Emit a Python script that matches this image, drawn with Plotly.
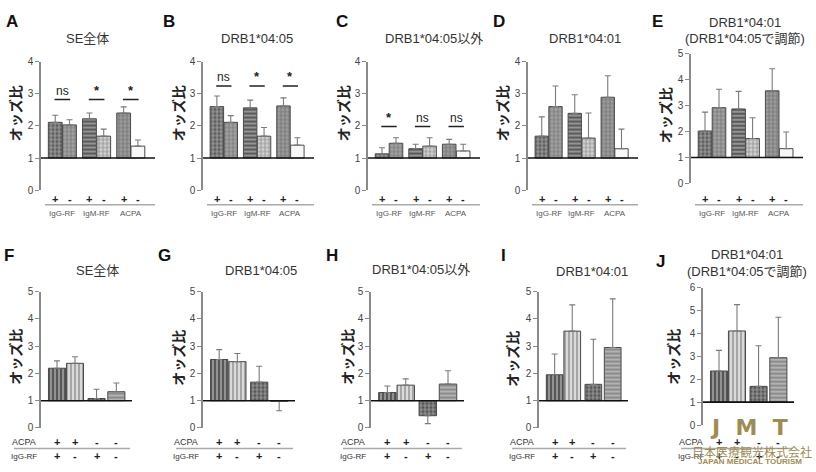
import plotly.graph_objects as go

# ---------------- DATA ----------------
top_groups = ["IgG-RF", "IgM-RF", "ACPA"]
top_signs = ["+", "-", "+", "-", "+", "-"]

A_or = [2.11, 2.03, 2.22, 1.68, 2.40, 1.37]
A_ci = [2.33, 2.19, 2.40, 1.90, 2.59, 1.56]
B_or = [2.60, 2.11, 2.56, 1.68, 2.62, 1.40]
B_ci = [2.93, 2.32, 2.80, 1.95, 2.87, 1.63]
C_or = [1.13, 1.46, 1.29, 1.37, 1.43, 1.22]
C_ci = [1.32, 1.63, 1.43, 1.63, 1.58, 1.43]
D_or = [1.68, 2.60, 2.39, 1.62, 2.89, 1.29]
D_ci = [2.28, 3.24, 2.97, 2.40, 3.56, 1.90]
E_or = [2.02, 2.92, 2.87, 1.73, 3.57, 1.34]
E_ci = [2.75, 3.63, 3.55, 2.53, 4.42, 1.98]

A_sig = ["ns", "*", "*"]
B_sig = ["ns", "*", "*"]
C_sig = ["*", "ns", "ns"]
A_sig_y = 2.82
B_sig_y = 3.24
C_sig_y = 1.98

acpa_signs = ["+", "+", "-", "-"]
igg_signs = ["+", "-", "+", "-"]

F_or = [2.19, 2.37, 1.08, 1.33]
F_ci = [2.46, 2.61, 1.42, 1.65]
G_or = [2.51, 2.43, 1.68, 0.98]
G_ci = [2.87, 2.73, 2.26, 0.63]
H_or = [1.30, 1.57, 0.45, 1.61]
H_ci = [1.54, 1.80, 0.16, 2.10]
I_or = [1.95, 3.55, 1.60, 2.95]
I_ci = [2.71, 4.51, 3.25, 4.73]
J_or = [2.36, 4.11, 1.69, 2.94]
J_ci = [3.26, 5.26, 3.46, 4.71]

ylabel = "オッズ比"
title_se = "SE全体"
title_0405 = "DRB1*04:05"
title_not0405 = "DRB1*04:05以外"
title_0401 = "DRB1*04:01"
title_adj = "(DRB1*04:05で調節)"

# ---------------- STYLE ----------------
W, H = 816, 472
LAT = "Liberation Sans, Arial, Noto Sans CJK JP"
CJK = "Noto Sans CJK JP, Liberation Sans"

top_pos = [0, 1, 2.4, 3.4, 4.8, 5.8]
top_group_pos = [0.5, 2.9, 5.3]
top_range = [-1, 7]
bot_pos = [0, 1, 2.2, 3.3]
bot_range = [-0.89, 4.17]

top_bg = ['#5e5e5e', '#a2a2a2', '#5a5a5a', '#d2d2d2', '#9c9c9c', '#f7f7f7']
top_fg = ['#3c3c3c', '#7c7c7c', '#343434', '#a2a2a2', '#828282', '#f7f7f7']
top_shape = ['+', '+', '-', '+', '+', '']
bot_bg = ['#575757', '#dadada', '#575757', '#b2b2b2']
bot_fg = ['#333333', '#9c9c9c', '#3a3a3a', '#888888']
bot_shape = ['|', '|', '+', '-']


def px(x):
    return x / W


def py(y):
    return 1 - y / H


def ann(text, x, y, xref="paper", yref="paper", size=11, color="#222", family=LAT, **kw):
    d = dict(text=text, x=x, y=y, xref=xref, yref=yref, showarrow=False, xanchor="center", yanchor="middle",
             font=dict(family=family, size=size, color=color))
    d.update(kw)
    return d


panels = [
    dict(letter="A", lx=12, ly=16, titles=[title_se], tx=87, ty=[33], orv=A_or, ci=A_ci, sig=A_sig, sig_y=A_sig_y,
         g=(41, 155, 189, 57, 4), ylx=15, yly=110, row="top"),
    dict(letter="B", lx=169, ly=16, titles=[title_0405], tx=257, ty=[33], orv=B_or, ci=B_ci, sig=B_sig, sig_y=B_sig_y,
         g=(203, 314, 189, 57, 4), ylx=178, yly=110, row="top"),
    dict(letter="C", lx=342, ly=16, titles=[title_not0405], tx=434, ty=[33], orv=C_or, ci=C_ci, sig=C_sig, sig_y=C_sig_y,
         g=(368, 480, 189, 57, 4), ylx=343, yly=110, row="top"),
    dict(letter="D", lx=499, ly=16, titles=[title_0401], tx=585, ty=[33], orv=D_or, ci=D_ci, sig=None, sig_y=None,
         g=(528, 638, 189, 57, 4), ylx=502, yly=110, row="top"),
    dict(letter="E", lx=657, ly=16, titles=[title_0401, title_adj], tx=745, ty=[17, 33], orv=E_or, ci=E_ci, sig=None,
         sig_y=None, g=(691, 803, 182, 49, 5), ylx=665, yly=112, row="top"),
    dict(letter="F", lx=9, ly=256, titles=[title_se], tx=97, ty=[271], orv=F_or, ci=F_ci, sig=None, sig_y=None,
         g=(41, 132, 433, 293, 5), ylx=15, yly=360, row="bot", labx=24),
    dict(letter="G", lx=164, ly=256, titles=[title_0405], tx=261, ty=[271], orv=G_or, ci=G_ci, sig=None, sig_y=None,
         g=(203, 295, 433, 293, 5), ylx=178, yly=361, row="bot", labx=186),
    dict(letter="H", lx=332, ly=256, titles=[title_not0405], tx=421, ty=[270], orv=H_or, ci=H_ci, sig=None, sig_y=None,
         g=(371, 464, 433, 293, 5), ylx=347, yly=360, row="bot", labx=353),
    dict(letter="I", lx=503, ly=256, titles=[title_0401], tx=592, ty=[272], orv=I_or, ci=I_ci, sig=None, sig_y=None,
         g=(539, 628, 433, 293, 5), ylx=512, yly=362, row="bot", labx=522),
    dict(letter="J", lx=660, ly=262, titles=[title_0401, title_adj], tx=747, ty=[255, 272], orv=J_or, ci=J_ci, sig=None,
         sig_y=None, g=(703, 794, 430, 289, 6), ylx=673, yly=360, row="bot", labx=691),
]

fig = go.Figure()
annotations = []
shapes = []
layout = {}

for i, p in enumerate(panels, start=1):
    xl, xr, yb, yt, ymax = p["g"]
    sfx = "" if i == 1 else str(i)
    xa, ya = "x" + sfx, "y" + sfx
    top = p["row"] == "top"
    pos = top_pos if top else bot_pos
    rng = top_range if top else bot_range
    bg = top_bg if top else bot_bg
    fg = top_fg if top else bot_fg
    shp = top_shape if top else bot_shape
    orv, ci = p["orv"], p["ci"]

    fig.add_trace(go.Bar(
        x=pos, y=[v - 1 for v in orv], base=1, width=0.97 if top else 0.95,
        xaxis=xa, yaxis=ya, showlegend=False, hoverinfo="skip",
        marker=dict(color=bg, line=dict(color="#4a4a4a", width=1),
                    pattern=dict(shape=shp, fgcolor=fg, bgcolor=bg, size=4, solidity=0.35))))
    up = [max(c - v, 0) if v >= 1 else 0 for v, c in zip(orv, ci)]
    dn = [0 if v >= 1 else max(v - c, 0) for v, c in zip(orv, ci)]
    fig.add_trace(go.Scatter(
        x=pos, y=orv, mode="markers", marker=dict(size=1, opacity=0), xaxis=xa, yaxis=ya,
        showlegend=False, hoverinfo="skip",
        error_y=dict(type="data", symmetric=False, array=up, arrayminus=dn,
                     color="#7a7a7a", thickness=1.1, width=3)))

    layout["xaxis" + sfx] = dict(domain=[px(xl), px(xr)], range=rng, anchor=ya, showline=False,
                                 showticklabels=False, ticks="", showgrid=False, zeroline=False, fixedrange=True)
    layout["yaxis" + sfx] = dict(domain=[py(yb), py(yt)], range=[0, ymax], anchor=xa, showline=True,
                                 linecolor="#8a8a8a", linewidth=1.5, ticks="outside", ticklen=4,
                                 tickcolor="#8a8a8a", tickwidth=1.2, dtick=1, showgrid=False, zeroline=False,
                                 tickfont=dict(family=LAT, size=10, color="#444"), fixedrange=True)

    # baseline at OR = 1
    shapes.append(dict(type="line", xref=xa + " domain", yref=ya, x0=0, x1=1, y0=1, y1=1,
                       line=dict(color="#111", width=1.6)))

    annotations.append(ann("<b>" + p["letter"] + "</b>", px(p["lx"]), py(p["ly"]), size=17, color="#111"))
    for t, ty in zip(p["titles"], p["ty"]):
        annotations.append(ann(t, px(p["tx"]), py(ty), size=13, color="#333"))
    annotations.append(ann("<b>" + ylabel + "</b>", px(p["ylx"]), py(p["yly"]), size=14, color="#222",
                           family=CJK, textangle=-90))

    if top:
        for xpos, s in zip(pos, top_signs):
            annotations.append(ann("<b>" + s + "</b>", xpos, py(198), xref=xa, size=11, color="#222"))
        shapes.append(dict(type="line", xref="paper", yref="paper", x0=px(xl + 4), x1=px(xr), y0=py(204),
                           y1=py(204), line=dict(color="#aaa", width=1.5)))
        for xpos, gname in zip(top_group_pos, top_groups):
            annotations.append(ann(gname, xpos, py(213), xref=xa, size=8, color="#555"))
        if p["sig"]:
            for xpos, s in zip(top_group_pos, p["sig"]):
                shapes.append(dict(type="line", xref=xa, yref=ya, x0=xpos - 0.55, x1=xpos + 0.55,
                                   y0=p["sig_y"], y1=p["sig_y"], line=dict(color="#222", width=1.6)))
                annotations.append(ann(("<b>*</b>" if s == "*" else s), xpos, p["sig_y"], xref=xa, yref=ya,
                                       size=12 if s == "ns" else 13, color="#222", yshift=9))
    else:
        annotations.append(ann("ACPA", px(p["labx"]), py(447), size=9, color="#333"))
        annotations.append(ann("IgG-RF", px(p["labx"]), py(462), size=8, color="#333"))
        for xpos, s1, s2 in zip(pos, acpa_signs, igg_signs):
            annotations.append(ann("<b>" + s1 + "</b>", xpos, py(447), xref=xa, size=11, color="#222"))
            annotations.append(ann("<b>" + s2 + "</b>", xpos, py(462), xref=xa, size=11, color="#222"))
        shapes.append(dict(type="line", xref="paper", yref="paper", x0=px(p["labx"] - 10), x1=px(xr - 2),
                           y0=py(454), y1=py(454), line=dict(color="#aaa", width=1.5)))

# watermark
gold = "#a08c52"
annotations.append(ann("<b>J  M  T</b>", px(749), py(433), size=22, color=gold, family="DejaVu Sans"))
annotations.append(ann("日本医療観光株式会社", px(752), py(457), size=12, color=gold, family=CJK))
annotations.append(ann("<b>JAPAN MEDICAL TOURISM</b>", px(750), py(467), size=8, color=gold))

fig.update_layout(width=W, height=H, margin=dict(l=0, r=0, t=0, b=0), paper_bgcolor="white",
                  plot_bgcolor="white", barmode="overlay", annotations=annotations, shapes=shapes, **layout)
fig.write_html("out.html")
